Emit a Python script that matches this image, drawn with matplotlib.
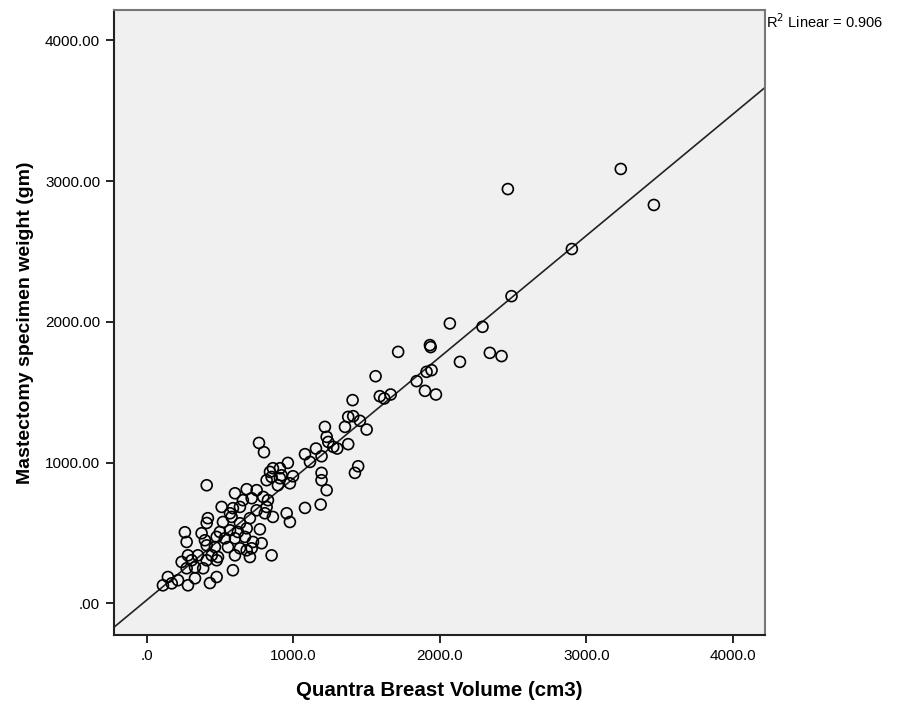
import numpy as np
import matplotlib
matplotlib.use('Agg')
import matplotlib.pyplot as plt
from matplotlib.ticker import FuncFormatter

plt.rcParams['font.family'] = ['Liberation Sans', 'DejaVu Sans']

# Quantra breast volume (cm3)
volume = [3235, 3461, 2464, 2901, 2489, 2291, 2068, 1932, 1937, 1715,
          2137, 2341, 2421, 1909, 1943, 1841, 1898, 1973, 1561, 1590,
          1620, 1664, 1404, 1374, 1408, 1454, 1352, 1500, 1215, 1227,
          1238, 1272, 1374, 1299, 1154, 1079, 1113, 1192, 1442, 1420,
          1192, 1192, 1227, 1186, 1079, 765, 799, 408, 962, 860,
          908, 840, 919, 851, 997, 976, 908, 817, 894, 601,
          681, 749, 794, 715, 655, 826, 817, 510, 587, 635,
          567, 749, 805, 954, 416, 860, 976, 408, 519, 578,
          635, 703, 771, 259, 373, 498, 567, 621, 681, 271,
          396, 476, 532, 601, 669, 724, 783, 408, 464, 553,
          635, 681, 715, 280, 348, 442, 485, 601, 703, 851,
          237, 305, 408, 476, 271, 328, 384, 587, 143, 212,
          328, 476, 109, 169, 280, 430]
# mastectomy specimen weight (gm)
weight = [3087, 2831, 2944, 2518, 2183, 1965, 1989, 1835, 1821, 1787,
          1716, 1780, 1757, 1645, 1657, 1579, 1510, 1484, 1614, 1472,
          1456, 1484, 1444, 1325, 1330, 1297, 1254, 1235, 1254, 1183,
          1147, 1112, 1131, 1100, 1100, 1060, 1005, 1045, 974, 927,
          927, 875, 804, 702, 678, 1140, 1074, 839, 998, 960,
          960, 934, 910, 898, 903, 853, 889, 875, 839, 782,
          811, 804, 756, 747, 733, 733, 685, 685, 676, 685,
          640, 661, 640, 640, 605, 614, 578, 571, 578, 614,
          569, 605, 526, 505, 498, 507, 519, 507, 533, 436,
          448, 472, 462, 462, 472, 436, 427, 412, 400, 400,
          391, 377, 391, 341, 341, 341, 329, 341, 329, 341,
          294, 306, 306, 306, 249, 256, 249, 235, 187, 164,
          178, 187, 128, 142, 128, 144]

x_ticks = [0, 1000, 2000, 3000, 4000]
y_ticks = [0, 1000, 2000, 3000, 4000]
r2_text = 'R$^2$ Linear = 0.906'

fig = plt.figure(figsize=(8.99, 7.06), dpi=100)
ax = fig.add_axes([0.1268, 0.1006, 0.7242, 0.8859])
ax.set_facecolor('#f0f0f0')

ax.scatter(volume, weight, s=62, facecolors='none', edgecolors='black', linewidths=1.2, zorder=3)

# least squares fit line across the full axis
slope, icpt = np.polyfit(volume, weight, 1)
xl = np.array([-225, 4220])
ax.plot(xl, icpt + slope * xl, color='#222222', lw=1.2, zorder=2)

ax.set_xlim(-225, 4220)
ax.set_ylim(-225, 4220)
ax.set_xticks(x_ticks)
ax.set_yticks(y_ticks)
ax.xaxis.set_major_formatter(FuncFormatter(lambda v, p: '.0' if v == 0 else '%.1f' % v))
ax.yaxis.set_major_formatter(FuncFormatter(lambda v, p: '.00' if v == 0 else '%.2f' % v))
ax.tick_params(direction='out', length=6, width=1.2, labelsize=11, pad=4, colors='black')

for s in ['top', 'right']:
    ax.spines[s].set_color('#777777')
    ax.spines[s].set_linewidth(1.5)
for s in ['left', 'bottom']:
    ax.spines[s].set_color('#222222')
    ax.spines[s].set_linewidth(1.5)

ax.set_xlabel('Quantra Breast Volume (cm3)', fontsize=14.8, fontweight='bold', labelpad=13)
ax.set_ylabel('Mastectomy specimen weight (gm)', fontsize=14, fontweight='bold', labelpad=8)

fig.text(0.852, 0.969, r2_text, fontsize=10.5, ha='left', va='center')

fig.savefig('out.png', dpi=100, facecolor='white')
